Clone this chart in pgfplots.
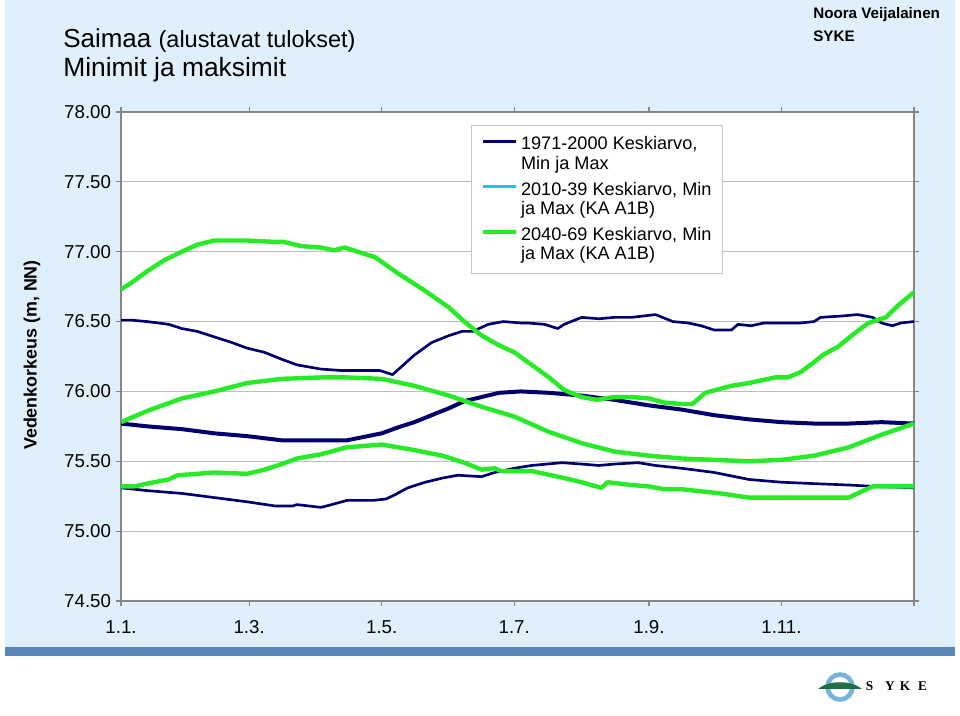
\documentclass[border=0pt]{standalone}
\usepackage{pgfplots}
\pgfplotsset{compat=1.18}
\usepackage{fontspec}
\setmainfont{Liberation Sans}
\newfontfamily\logofont{Liberation Serif}
\definecolor{slidebg}{RGB}{223,240,252}
\definecolor{barblue}{RGB}{88,134,182}
\definecolor{navy}{RGB}{0,0,110}
\definecolor{lgreen}{RGB}{40,235,40}
\definecolor{lcyan}{RGB}{25,200,240}
\definecolor{axgray}{RGB}{134,134,134}
\definecolor{gridgray}{RGB}{190,190,190}
\definecolor{logoblue}{RGB}{120,180,218}
\definecolor{logogreen}{RGB}{30,110,70}
\begin{document}
\begin{tikzpicture}[x=0.75pt,y=0.75pt]
\path[use as bounding box] (0,0) rectangle (960,716);
\fill[white] (0,0) rectangle (960,716);
\fill[slidebg] (5,69) rectangle (955,716);
\fill[barblue] (5,60) rectangle (955,69);
\coordinate (axpos) at (121,115);
% titles
\node[anchor=base west, inner sep=0pt] at (63,668) {\fontsize{19.5}{22}\selectfont Saimaa \fontsize{17.6}{20}\selectfont(alustavat tulokset)};
\node[anchor=base west, inner sep=0pt] at (63,639) {\fontsize{19.8}{22}\selectfont Minimit ja maksimit};
\node[anchor=base west, inner sep=0pt] at (813,697) {\fontsize{11.4}{13}\selectfont\bfseries Noora Veijalainen};
\node[anchor=base west, inner sep=0pt] at (813,674) {\fontsize{11.4}{13}\selectfont\bfseries SYKE};
\node[rotate=90, inner sep=0pt] at (32,361) {\fontsize{13.4}{15}\selectfont\bfseries Vedenkorkeus (m, NN)};
% logo
\draw[logoblue, line width=3.5pt] (840,29) circle (12.5);
\fill[logogreen] (818,27) .. controls (828,36) and (852,36) .. (862,27) -- cycle;
\node[anchor=base, inner sep=0pt] at (869.5,25) {\fontsize{10}{12}\selectfont\logofont\bfseries S};
\node[anchor=base, inner sep=0pt] at (890,25) {\fontsize{10}{12}\selectfont\logofont\bfseries Y};
\node[anchor=base, inner sep=0pt] at (905,25) {\fontsize{10}{12}\selectfont\logofont\bfseries K};
\node[anchor=base, inner sep=0pt] at (922.5,25) {\fontsize{10}{12}\selectfont\logofont\bfseries E};
\begin{axis}[
  at={(axpos)}, anchor=south west, scale only axis,
  width=594.75pt, height=366.75pt,
  xmin=0, xmax=365, ymin=74.5, ymax=78,
  axis background/.style={fill=white},
  axis line style={axgray, line width=1.1pt},
  xtick={0,59,120,181,243,304,365},
  xticklabels={1.1.,1.3.,1.5.,1.7.,1.9.,1.11.,},
  ytick={74.5,75,75.5,76,76.5,77,77.5,78},
  ymajorgrids, grid style={gridgray, line width=0.8pt},
  tick align=outside, major tick length=4pt,
  tick style={axgray, line width=0.9pt},
  /pgf/number format/assume math mode=true,
  yticklabel style={/pgf/number format/fixed, /pgf/number format/fixed zerofill, /pgf/number format/precision=2},
  xticklabel style={anchor=north, text height=10.5pt, text depth=0pt, yshift=-6pt},
  tick label style={font=\fontsize{14}{16}\selectfont},
  legend style={at={(0.4414,0.9734)}, anchor=north west, draw=gray!45, fill=white,
    font=\fontsize{13.6}{14.6}\selectfont, inner xsep=7pt, inner ysep=7.5pt,
    row sep=6pt, column sep=1pt, cells={anchor=west, align=left}, nodes={inner sep=1pt}},
  legend image code/.code={\draw[#1] (0pt,9.5pt) -- (25pt,9.5pt);},
]
\addplot[navy, line width=2pt, line join=round] table {
0 76.51
5 76.51
12 76.50
22 76.48
28 76.45
35 76.43
43 76.39
51 76.35
58 76.31
66 76.28
74 76.23
81 76.19
92 76.16
101 76.15
110 76.15
119 76.15
125 76.12
135 76.26
143 76.35
151 76.40
157 76.43
162 76.43
169 76.48
176 76.50
184 76.49
187 76.49
195 76.48
201 76.45
204 76.48
212 76.53
220 76.52
227 76.53
235 76.53
246 76.55
254 76.50
261 76.49
267 76.47
273 76.44
281 76.44
284 76.48
290 76.47
296 76.49
304 76.49
313 76.49
319 76.50
322 76.53
332 76.54
339 76.55
346 76.53
350 76.49
355 76.47
359 76.49
365 76.50
};
\addlegendentry{1971-2000 Keskiarvo,\\Min ja Max}
\addplot[navy, line width=3pt, line join=round, forget plot] table {
0 75.77
12 75.75
28 75.73
43 75.70
58 75.68
74 75.65
92 75.65
104 75.65
120 75.70
127 75.74
135 75.78
143 75.83
151 75.88
158 75.93
166 75.96
174 75.99
184 76.00
197 75.99
212 75.97
227 75.94
243 75.90
258 75.87
273 75.83
289 75.80
304 75.78
319 75.77
335 75.77
350 75.78
365 75.77
};
\addplot[navy, line width=2pt, line join=round, forget plot] table {
0 75.31
12 75.29
28 75.27
43 75.24
58 75.21
71 75.18
79 75.18
81 75.19
92 75.17
97 75.19
104 75.22
116 75.22
122 75.23
126 75.26
132 75.31
140 75.35
148 75.38
155 75.40
166 75.39
172 75.42
181 75.45
189 75.47
203 75.49
212 75.48
220 75.47
227 75.48
238 75.49
246 75.47
258 75.45
273 75.42
289 75.37
304 75.35
319 75.34
335 75.33
347 75.32
365 75.31
};
\addlegendimage{lcyan, line width=2.5pt}
\addlegendentry{2010-39 Keskiarvo, Min\\ja Max (KA A1B)}
\addplot[lgreen, line width=3.3pt, line join=round] table {
0 76.73
5 76.78
12 76.86
20 76.94
28 77.00
35 77.05
43 77.08
58 77.08
71 77.07
75 77.07
83 77.04
92 77.03
98 77.01
103 77.03
117 76.96
127 76.85
139 76.73
151 76.60
158 76.50
166 76.40
174 76.33
181 76.28
189 76.19
197 76.10
204 76.01
212 75.96
219 75.94
227 75.96
235 75.96
243 75.95
250 75.92
258 75.91
263 75.91
269 75.99
276 76.02
281 76.04
289 76.06
301 76.10
307 76.10
313 76.14
319 76.21
323 76.26
330 76.32
338 76.42
344 76.49
352 76.53
358 76.62
365 76.71
};
\addlegendentry{2040-69 Keskiarvo, Min\\ja Max (KA A1B)}
\addplot[lgreen, line width=3.3pt, line join=round, forget plot] table {
0 75.78
12 75.86
28 75.95
43 76.00
58 76.06
74 76.09
92 76.10
104 76.10
120 76.09
135 76.04
151 75.97
166 75.89
181 75.82
197 75.71
212 75.63
227 75.57
243 75.54
258 75.52
273 75.51
289 75.50
304 75.51
319 75.54
335 75.60
350 75.69
365 75.77
};
\addplot[lgreen, line width=3.3pt, line join=round, forget plot] table {
0 75.32
6 75.32
12 75.34
22 75.37
26 75.40
35 75.41
43 75.42
58 75.41
66 75.44
74 75.48
81 75.52
92 75.55
104 75.60
120 75.62
135 75.58
148 75.54
158 75.49
166 75.44
172 75.45
175 75.43
184 75.43
189 75.43
204 75.38
212 75.35
221 75.31
224 75.35
235 75.33
243 75.32
250 75.30
258 75.30
276 75.27
289 75.24
304 75.24
319 75.24
327 75.24
335 75.24
339 75.27
346 75.32
353 75.32
365 75.32
};
\end{axis}
\end{tikzpicture}
\end{document}
